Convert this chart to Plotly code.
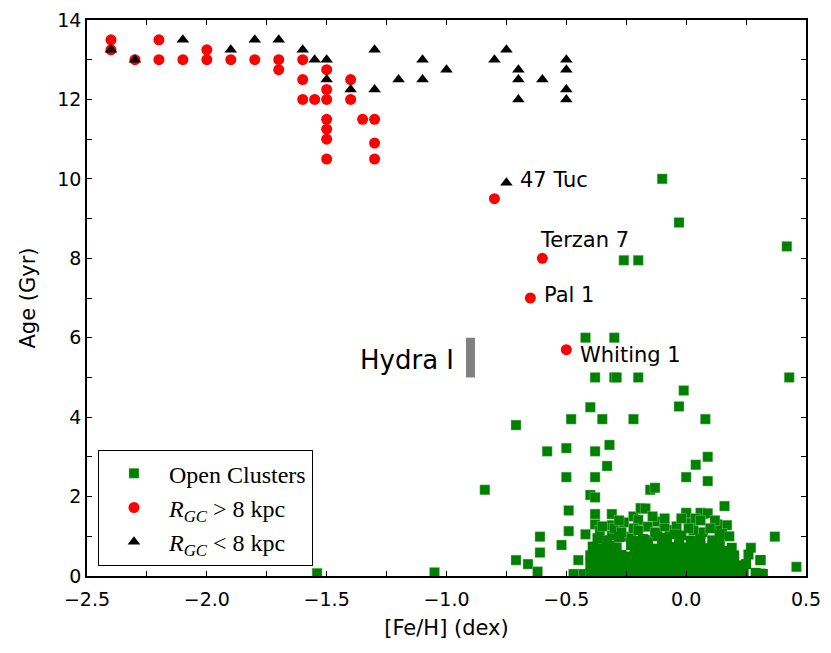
import plotly.graph_objects as go

# ---------------- data ----------------
# Globular clusters, R_GC > 8 kpc (red circles)
gc_out_feh = [-2.40, -2.40, -2.30, -2.20, -2.20, -2.10, -2.00, -2.00, -1.90, -1.80,
              -1.70, -1.70, -1.60, -1.60, -1.60, -1.55, -1.50, -1.50, -1.50, -1.50,
              -1.50, -1.50, -1.50, -1.40, -1.40, -1.35, -1.30, -1.30, -1.30, -0.80,
              -0.60, -0.65, -0.50]
gc_out_age = [13.5, 13.25, 13.0, 13.5, 13.0, 13.0, 13.25, 13.0, 13.0, 13.0,
              13.0, 12.75, 13.0, 12.5, 12.0, 12.0, 12.75, 12.25, 12.0, 11.5,
              11.25, 11.0, 10.5, 12.5, 12.0, 11.5, 11.5, 10.9, 10.5, 9.5,
              8.0, 7.0, 5.7]

# Globular clusters, R_GC < 8 kpc (black triangles)
gc_in_feh = [-2.40, -2.30, -2.10, -1.90, -1.80, -1.70, -1.60, -1.55, -1.50, -1.50,
             -1.40, -1.30, -1.30, -1.20, -1.10, -1.10, -1.00, -0.80, -0.75, -0.70,
             -0.70, -0.70, -0.60, -0.50, -0.50, -0.50, -0.50, -0.75]
gc_in_age = [13.25, 13.0, 13.5, 13.25, 13.5, 13.5, 13.25, 13.0, 13.0, 12.5,
             12.25, 13.25, 12.25, 12.5, 13.0, 12.5, 12.75, 13.0, 13.25, 12.75,
             12.5, 12.0, 12.5, 13.0, 12.75, 12.25, 12.0, 9.9]

# Open clusters (green squares): sparse, older ones
oc_feh = [
    -0.10, -0.03, 0.42, -0.26, -0.20, -0.42, -0.30, -0.38, -0.30, -0.29,
    -0.20, 0.43, -0.01, -0.03, -0.40, -0.48, -0.35, -0.22, 0.08, -0.71,
    -0.32, -0.58, -0.50, -0.38, 0.09, 0.04, -0.33, -0.50, -0.38, 0.00,
    0.09, -0.84, -0.15, -0.13, -0.40, -0.38, 0.16, -0.49, -0.18, -0.38,
    -0.31, -0.22, 0.00, 0.07, 0.17, -0.49, -0.61, 0.37, -0.52, 0.27,
    -0.61, -0.71, -0.66, -0.45, 0.20, 0.31, 0.46, -0.62, -0.44, -0.47,
    0.31, -1.54, -1.05,
    -0.38, -0.42, -0.31, -0.31, -0.19, -0.20, -0.25, -0.23, -0.17, 0.00,
    0.06, -0.16, -0.12, -0.07, 0.02, 0.07, -0.16, -0.10, 0.09, 0.15,
    0.14, 0.11, 0.13, -0.30, -0.22, -0.09, -0.14, 0.04, 0.12, -0.26,
    -0.36, 0.18, -0.04, 0.03,
    -0.35, -0.27, -0.20, -0.13, -0.05, 0.01, 0.10, 0.06, -0.02, -0.28, -0.09,
]
oc_age = [
    10.0, 8.9, 8.3, 7.95, 7.95, 6.0, 6.0, 5.0, 5.0, 5.0,
    5.0, 5.0, 4.67, 4.27, 4.25, 3.95, 3.95, 3.95, 3.95, 3.8,
    3.3, 3.14, 3.22, 3.14, 3.0, 2.8, 2.77, 2.49, 2.49, 2.49,
    2.39, 2.17, 2.17, 2.22, 2.04, 1.98, 1.76, 1.65, 1.69, 1.56,
    1.56, 1.5, 1.56, 1.56, 1.28, 1.13, 0.99, 0.99, 0.78, 0.71,
    0.59, 0.40, 0.30, 0.40, 0.44, 0.40, 0.23, 0.11, 0.05, 0.05,
    0.06, 0.07, 0.09,
    1.30, 1.05, 1.28, 1.02, 1.71, 1.41, 0.99, 0.95, 1.70, 1.59,
    1.59, 1.24, 1.37, 1.16, 1.33, 1.10, 0.91, 0.95, 1.58, 1.07,
    0.95, 0.90, 1.30, 1.20, 1.20, 1.25, 1.50, 1.45, 1.40, 1.35,
    1.15, 1.00, 1.25, 1.15,
    1.25, 1.10, 1.15, 1.10, 1.05, 1.20, 1.20, 1.40, 1.45, 1.40, 1.45,
]

# Open clusters (green squares): young, crowded block
young_feh = [
    -0.40, -0.37, -0.34, -0.31, -0.28, -0.24, -0.21, -0.18, -0.15, -0.12, -0.09,
    -0.06, -0.03, 0.00, 0.03, 0.06, 0.09, 0.12, 0.15, 0.18, 0.21, 0.24, 0.29, 0.32,
    -0.40, -0.37, -0.34, -0.31, -0.28, -0.24, -0.21, -0.18, -0.15, -0.12, -0.09,
    -0.06, -0.03, 0.00, 0.03, 0.06, 0.09, 0.12, 0.15, 0.18, 0.21, 0.25,
    -0.40, -0.36, -0.33, -0.30, -0.27, -0.24, -0.21, -0.17, -0.14, -0.11, -0.08,
    -0.05, -0.02, 0.01, 0.04, 0.07, 0.10, 0.13, 0.16, 0.20, 0.26, 0.31,
    -0.39, -0.36, -0.32, -0.29, -0.23, -0.20, -0.16, -0.13, -0.10, -0.06,
    -0.03, 0.01, 0.05, 0.08, 0.11, 0.14, 0.19,
    -0.37, -0.33, -0.28, -0.22, -0.18, -0.12, -0.08, -0.02, 0.02, 0.06, 0.11, 0.14,
    -0.385, -0.355, -0.325, -0.295, -0.225, -0.195, -0.165, -0.135, -0.105, -0.075,
    -0.045, -0.015, 0.015, 0.045, 0.075, 0.105, 0.135, 0.165, 0.195, 0.225,
    -0.385, -0.345, -0.315, -0.285, -0.225, -0.185, -0.155, -0.125, -0.095, -0.065,
    -0.035, 0.005, 0.035, 0.065, 0.095, 0.125, 0.155, 0.185,
    -0.375, -0.335, -0.305, -0.215, -0.175, -0.145, -0.115, -0.045, -0.015,
    0.025, 0.055, 0.095, 0.125, 0.165,
]
young_age = [
    0.06, 0.10, 0.05, 0.08, 0.12, 0.06, 0.10, 0.05, 0.09, 0.06, 0.11,
    0.05, 0.08, 0.12, 0.06, 0.10, 0.05, 0.08, 0.11, 0.06, 0.09, 0.05, 0.08, 0.05,
    0.30, 0.26, 0.33, 0.28, 0.32, 0.27, 0.31, 0.34, 0.29, 0.26, 0.32,
    0.28, 0.33, 0.27, 0.30, 0.34, 0.26, 0.31, 0.28, 0.33, 0.27, 0.30,
    0.52, 0.55, 0.50, 0.56, 0.53, 0.49, 0.55, 0.51, 0.54, 0.50, 0.56,
    0.52, 0.49, 0.55, 0.51, 0.53, 0.50, 0.56, 0.49, 0.52, 0.54, 0.40,
    0.74, 0.70, 0.76, 0.72, 0.78, 0.71, 0.75, 0.69, 0.77, 0.73,
    0.80, 0.72, 0.76, 0.70, 0.78, 0.74, 0.71,
    0.95, 0.90, 0.98, 0.88, 0.93, 1.00, 0.96, 1.02, 0.89, 0.92, 0.86, 1.05,
    0.18, 0.20, 0.17, 0.19, 0.21, 0.18, 0.20, 0.17, 0.19, 0.21,
    0.18, 0.20, 0.17, 0.19, 0.21, 0.18, 0.20, 0.17, 0.19, 0.21,
    0.42, 0.40, 0.43, 0.41, 0.42, 0.40, 0.43, 0.41, 0.42, 0.40,
    0.43, 0.41, 0.42, 0.40, 0.43, 0.41, 0.42, 0.40,
    0.63, 0.62, 0.64, 0.62, 0.63, 0.64, 0.62, 0.63, 0.64,
    0.62, 0.63, 0.64, 0.62, 0.63,
]

# Hydra I age range
hydra_feh = -0.9
hydra_age = [5.0, 6.0]

# Labelled clusters: (name, [Fe/H] of label anchor, age of label anchor)
label_names = ["47 Tuc", "Terzan 7", "Pal 1", "Whiting 1"]
label_feh = [-0.70, -0.62, -0.60, -0.45]
label_age = [9.97, 8.46, 7.08, 5.57]

x_tickvals = [-2.5, -2.25, -2.0, -1.75, -1.5, -1.25, -1.0, -0.75, -0.5, -0.25, 0.0, 0.25, 0.5]
x_ticktext = ["−2.5", "", "−2.0", "", "−1.5", "", "−1.0", "", "−0.5", "", "0.0", "", "0.5"]
y_tickvals = list(range(0, 15))
y_ticktext = [str(v) if v % 2 == 0 else "" for v in y_tickvals]

# ---------------- figure ----------------
fig = go.Figure()

sq_marker = dict(symbol="square", size=10, color="#008000", line=dict(width=0.4, color="#9fd39f"))
fig.add_trace(go.Scatter(x=oc_feh, y=oc_age, mode="markers", name="Open Clusters",
                         legendgroup="oc", marker=sq_marker))
fig.add_trace(go.Scatter(x=young_feh, y=young_age, mode="markers", name="Open Clusters",
                         legendgroup="oc", showlegend=False,
                         marker=dict(symbol="square", size=10, color="#008000", line=dict(width=0))))
fig.add_trace(go.Scatter(
    x=gc_out_feh, y=gc_out_age, mode="markers",
    name="<i>R</i><sub><i>GC</i></sub> > 8 kpc",
    marker=dict(symbol="circle", size=11, color="#ff0000", line=dict(width=0)),
))
fig.add_trace(go.Scatter(
    x=gc_in_feh, y=gc_in_age, mode="markers",
    name="<i>R</i><sub><i>GC</i></sub> < 8 kpc",
    marker=dict(symbol="triangle-up", size=11, color="#000000", line=dict(width=0)),
))
fig.add_trace(go.Scatter(
    x=[hydra_feh, hydra_feh], y=hydra_age, mode="lines", showlegend=False,
    line=dict(color="#808080", width=9),
))

for name, fx, fy in zip(label_names, label_feh, label_age):
    fig.add_annotation(x=fx, y=fy, text=name, showarrow=False, xanchor="left",
                       yanchor="middle", font=dict(family="DejaVu Sans", size=21, color="black"))
fig.add_annotation(x=hydra_feh - 0.06, y=5.45, text="Hydra I", showarrow=False,
                   xanchor="right", yanchor="middle",
                   font=dict(family="DejaVu Sans", size=26, color="black"))

axis_common = dict(
    showgrid=False, zeroline=False, showline=True, linecolor="black", linewidth=1.5,
    mirror="ticks", ticks="inside", ticklen=5, tickwidth=1, tickcolor="black",
    tickfont=dict(family="DejaVu Sans", size=19, color="black"), automargin=False,
)
fig.update_xaxes(range=[-2.5, 0.5], tickmode="array", tickvals=x_tickvals, ticktext=x_ticktext,
                 ticklabelstandoff=5,
                 title=dict(text="[Fe/H] (dex)", font=dict(family="DejaVu Sans", size=21, color="black"),
                            standoff=12),
                 **axis_common)
fig.update_yaxes(range=[0, 14], tickmode="array", tickvals=y_tickvals, ticktext=y_ticktext,
                 title=dict(text="Age (Gyr)", font=dict(family="DejaVu Sans", size=21, color="black"),
                            standoff=16),
                 **axis_common)

fig.update_layout(
    width=831, height=653,
    margin=dict(l=79, r=33, t=12, b=85),
    paper_bgcolor="white", plot_bgcolor="white",
    legend=dict(x=0.015, y=0.018, xanchor="left", yanchor="bottom",
                bgcolor="white", bordercolor="black", borderwidth=1.2,
                font=dict(family="Liberation Serif", size=24, color="black"),
                itemwidth=60, tracegroupgap=0),
)

fig.write_html("out.html")
